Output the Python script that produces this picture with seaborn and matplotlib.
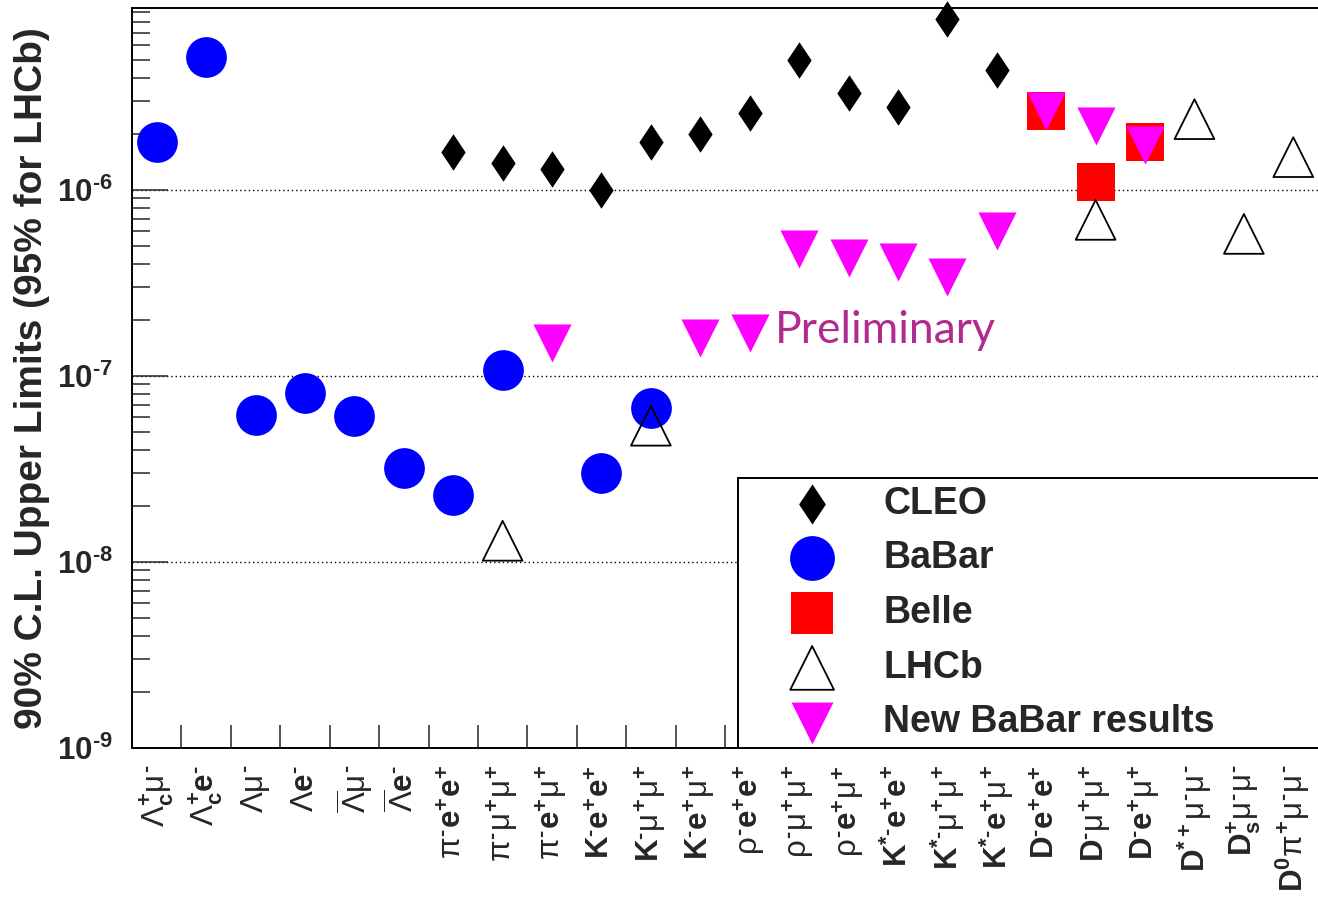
import numpy as np
import pandas as pd
import matplotlib
matplotlib.use("Agg")
import matplotlib.pyplot as plt
import seaborn as sns
from matplotlib.ticker import FixedLocator, FixedFormatter, LogLocator, NullFormatter

# ---- decay channels (x categories) ----
channels = [
    "Lc mu", "Lc e", "L mu", "L e", "Lbar mu", "Lbar e",
    "pi ee", "pi mumu", "pi emu", "K ee", "K mumu", "K emu",
    "rho ee", "rho mumu", "rho emu", "K* ee", "K* mumu", "K* emu",
    "D ee", "D mumu", "D emu", "D* mumu", "Ds mumu", "D0 pi mumu",
]

# superscript charges (short hyphen for the negative charge)
P = r"^{\mathbf{+}}"
M = r"^{\mathbf{‐}}"
tick_labels = [
    r"$Λ_{\mathbf{c}}" + P + "μ" + M + "$",
    r"$Λ_{\mathbf{c}}" + P + r"\mathbf{e}" + M + "$",
    r"$Λμ" + M + "$",
    r"$Λ\mathbf{e}" + M + "$",
    r"$\overline{Λ}μ" + M + "$",
    r"$\overline{Λ}\mathbf{e}" + M + "$",
    r"$π" + M + r"\mathbf{e}" + P + r"\mathbf{e}" + P + "$",
    r"$π" + M + "μ" + P + "μ" + P + "$",
    r"$π" + M + r"\mathbf{e}" + P + "μ" + P + "$",
    r"$\mathbf{K}" + M + r"\mathbf{e}" + P + r"\mathbf{e}" + P + "$",
    r"$\mathbf{K}" + M + "μ" + P + "μ" + P + "$",
    r"$\mathbf{K}" + M + r"\mathbf{e}" + P + "μ" + P + "$",
    r"$ρ" + M + r"\mathbf{e}" + P + r"\mathbf{e}" + P + "$",
    r"$ρ" + M + "μ" + P + "μ" + P + "$",
    r"$ρ" + M + r"\mathbf{e}" + P + "μ" + P + "$",
    r"$\mathbf{K}^{\mathbf{*‐}}\mathbf{e}" + P + r"\mathbf{e}" + P + "$",
    r"$\mathbf{K}^{\mathbf{*‐}}μ" + P + "μ" + P + "$",
    r"$\mathbf{K}^{\mathbf{*‐}}\mathbf{e}" + P + "μ" + P + "$",
    r"$\mathbf{D}" + M + r"\mathbf{e}" + P + r"\mathbf{e}" + P + "$",
    r"$\mathbf{D}" + M + "μ" + P + "μ" + P + "$",
    r"$\mathbf{D}" + M + r"\mathbf{e}" + P + "μ" + P + "$",
    r"$\mathbf{D}^{\mathbf{*+}}μ" + M + "μ" + M + "$",
    r"$\mathbf{D}_{\mathbf{s}}" + P + "μ" + M + "μ" + M + "$",
    r"$\mathbf{D}^{\mathbf{0}}π" + P + "μ" + M + "μ" + M + "$",
]

# ---- upper limits per experiment ----
cleo_channels = ["pi ee", "pi mumu", "pi emu", "K ee", "K mumu", "K emu",
                 "rho ee", "rho mumu", "rho emu", "K* ee", "K* mumu", "K* emu"]
cleo_limits = [1.6e-6, 1.4e-6, 1.3e-6, 1.0e-6, 1.8e-6, 2.0e-6,
               2.6e-6, 5.0e-6, 3.3e-6, 2.8e-6, 8.3e-6, 4.4e-6]

babar_channels = ["Lc mu", "Lc e", "L mu", "L e", "Lbar mu", "Lbar e",
                  "pi ee", "pi mumu", "K ee", "K mumu"]
babar_limits = [1.8e-6, 5.2e-6, 6.2e-8, 8.1e-8, 6.1e-8, 3.2e-8,
                2.3e-8, 1.07e-7, 3.0e-8, 6.7e-8]

belle_channels = ["D ee", "D mumu", "D emu"]
belle_limits = [2.65e-6, 1.1e-6, 1.8e-6]

lhcb_channels = ["pi mumu", "K mumu", "D mumu", "D* mumu", "Ds mumu", "D0 pi mumu"]
lhcb_limits = [1.3e-8, 5.4e-8, 6.9e-7, 2.4e-6, 5.8e-7, 1.5e-6]

new_babar_channels = ["pi emu", "K emu", "rho ee", "rho mumu", "rho emu",
                      "K* ee", "K* mumu", "K* emu", "D ee", "D mumu", "D emu"]
new_babar_limits = [1.5e-7, 1.6e-7, 1.7e-7, 4.8e-7, 4.3e-7,
                    4.1e-7, 3.4e-7, 6.0e-7, 2.65e-6, 2.2e-6, 1.75e-6]

y_ticks = [1e-9, 1e-8, 1e-7, 1e-6]
y_tick_labels = [r"$\mathbf{10^{‐9}}$", r"$\mathbf{10^{‐8}}$",
                 r"$\mathbf{10^{‐7}}$", r"$\mathbf{10^{‐6}}$"]

# ---- style ----
sns.set_style("white")
plt.rcParams["font.family"] = ["Liberation Sans", "DejaVu Sans"]
plt.rcParams["mathtext.fontset"] = "custom"
plt.rcParams["mathtext.rm"] = "Liberation Sans"
plt.rcParams["mathtext.it"] = "Liberation Sans"
plt.rcParams["mathtext.sf"] = "Liberation Sans"
plt.rcParams["mathtext.bf"] = "Liberation Sans:bold"

W, H = 1318, 899
fig = plt.figure(figsize=(W / 100, H / 100), dpi=100)
ax = fig.add_axes([132 / W, 151 / H, 1186 / W, 740 / H])

pos = {c: i + 0.5 for i, c in enumerate(channels)}


def frame(chans, vals):
    return pd.DataFrame({"channel": chans,
                         "x": [pos[c] for c in chans],
                         "limit": vals})


thin_diamond = [(0, 1), (0.667, 0), (0, -1), (-0.667, 0), (0, 1)]

sns.scatterplot(data=frame(cleo_channels, cleo_limits), x="x", y="limit", ax=ax,
                marker=thin_diamond, s=690, color="black", linewidth=0,
                label="CLEO", clip_on=False, zorder=3)
sns.scatterplot(data=frame(babar_channels, babar_limits), x="x", y="limit", ax=ax,
                marker="o", s=860, color="#0000ff", linewidth=0,
                label="BaBar", clip_on=False, zorder=3)
sns.scatterplot(data=frame(belle_channels, belle_limits), x="x", y="limit", ax=ax,
                marker="s", s=780, color="#ff0000", linewidth=0,
                label="Belle", clip_on=False, zorder=3)
sns.scatterplot(data=frame(lhcb_channels, lhcb_limits), x="x", y="limit", ax=ax,
                marker="^", s=820, color="black", facecolor="none",
                edgecolor="black", linewidth=1.3,
                label="LHCb", clip_on=False, zorder=3)
sns.scatterplot(data=frame(new_babar_channels, new_babar_limits), x="x", y="limit",
                ax=ax, marker="v", s=750, color="#ff00ff", linewidth=0,
                label="New BaBar results", clip_on=False, zorder=3)

# ---- axes ----
ax.set_yscale("log")
ax.set_ylim(1e-9, 9.5e-6)
ax.set_xlim(0, len(channels))

ax.yaxis.set_major_locator(FixedLocator(y_ticks))
ax.yaxis.set_major_formatter(FixedFormatter(y_tick_labels))
ax.yaxis.set_minor_locator(LogLocator(base=10, subs=np.arange(2, 10)))
ax.yaxis.set_minor_formatter(NullFormatter())
ax.tick_params(axis="y", which="major", direction="in", length=26, width=1.1,
               pad=14, labelsize=22.5, left=True, right=False)
ax.tick_params(axis="y", which="minor", direction="in", length=13, width=1.1,
               left=True, right=False)

ax.set_xticks(np.arange(len(channels)) + 0.5)
ax.set_xticklabels(tick_labels, rotation=90)
ax.set_xticks(np.arange(1, len(channels)), minor=True)
ax.tick_params(axis="x", which="major", length=0, pad=12, labelsize=22.5)
ax.tick_params(axis="x", which="minor", direction="in", length=16.5, width=1.1,
               bottom=True, top=False)

ax.yaxis.grid(True, which="major", color="black", linestyle=(0, (1, 2.1)),
              linewidth=1.0)
ax.xaxis.grid(False)
ax.set_axisbelow(True)

for side in ("left", "bottom", "top"):
    ax.spines[side].set_linewidth(1.4)
    ax.spines[side].set_color("black")
ax.spines["right"].set_visible(False)

ax.set_xlabel("")
ax.set_ylabel("90% C.L. Upper Limits (95% for LHCb)", fontsize=28,
              fontweight="bold")
ax.yaxis.set_label_coords(-0.069, 0.5)

ax.text(13.0, 1.75e-7, "Preliminary", fontsize=32, family="Lato",
        color="#b12a90", ha="left", va="center")

leg = ax.legend(loc="lower left", bbox_to_anchor=(0.511, 0.0, 0.5, 0.37),
                mode="expand", borderaxespad=0, fancybox=False, framealpha=1,
                edgecolor="black", borderpad=0.2, labelspacing=0.5,
                handlelength=3.55, handletextpad=0.12, markerscale=1.1,
                prop={"family": "Liberation Sans", "weight": "bold", "size": 27})
leg.get_frame().set_linewidth(1.4)

fig.savefig("out.png", dpi=100)
